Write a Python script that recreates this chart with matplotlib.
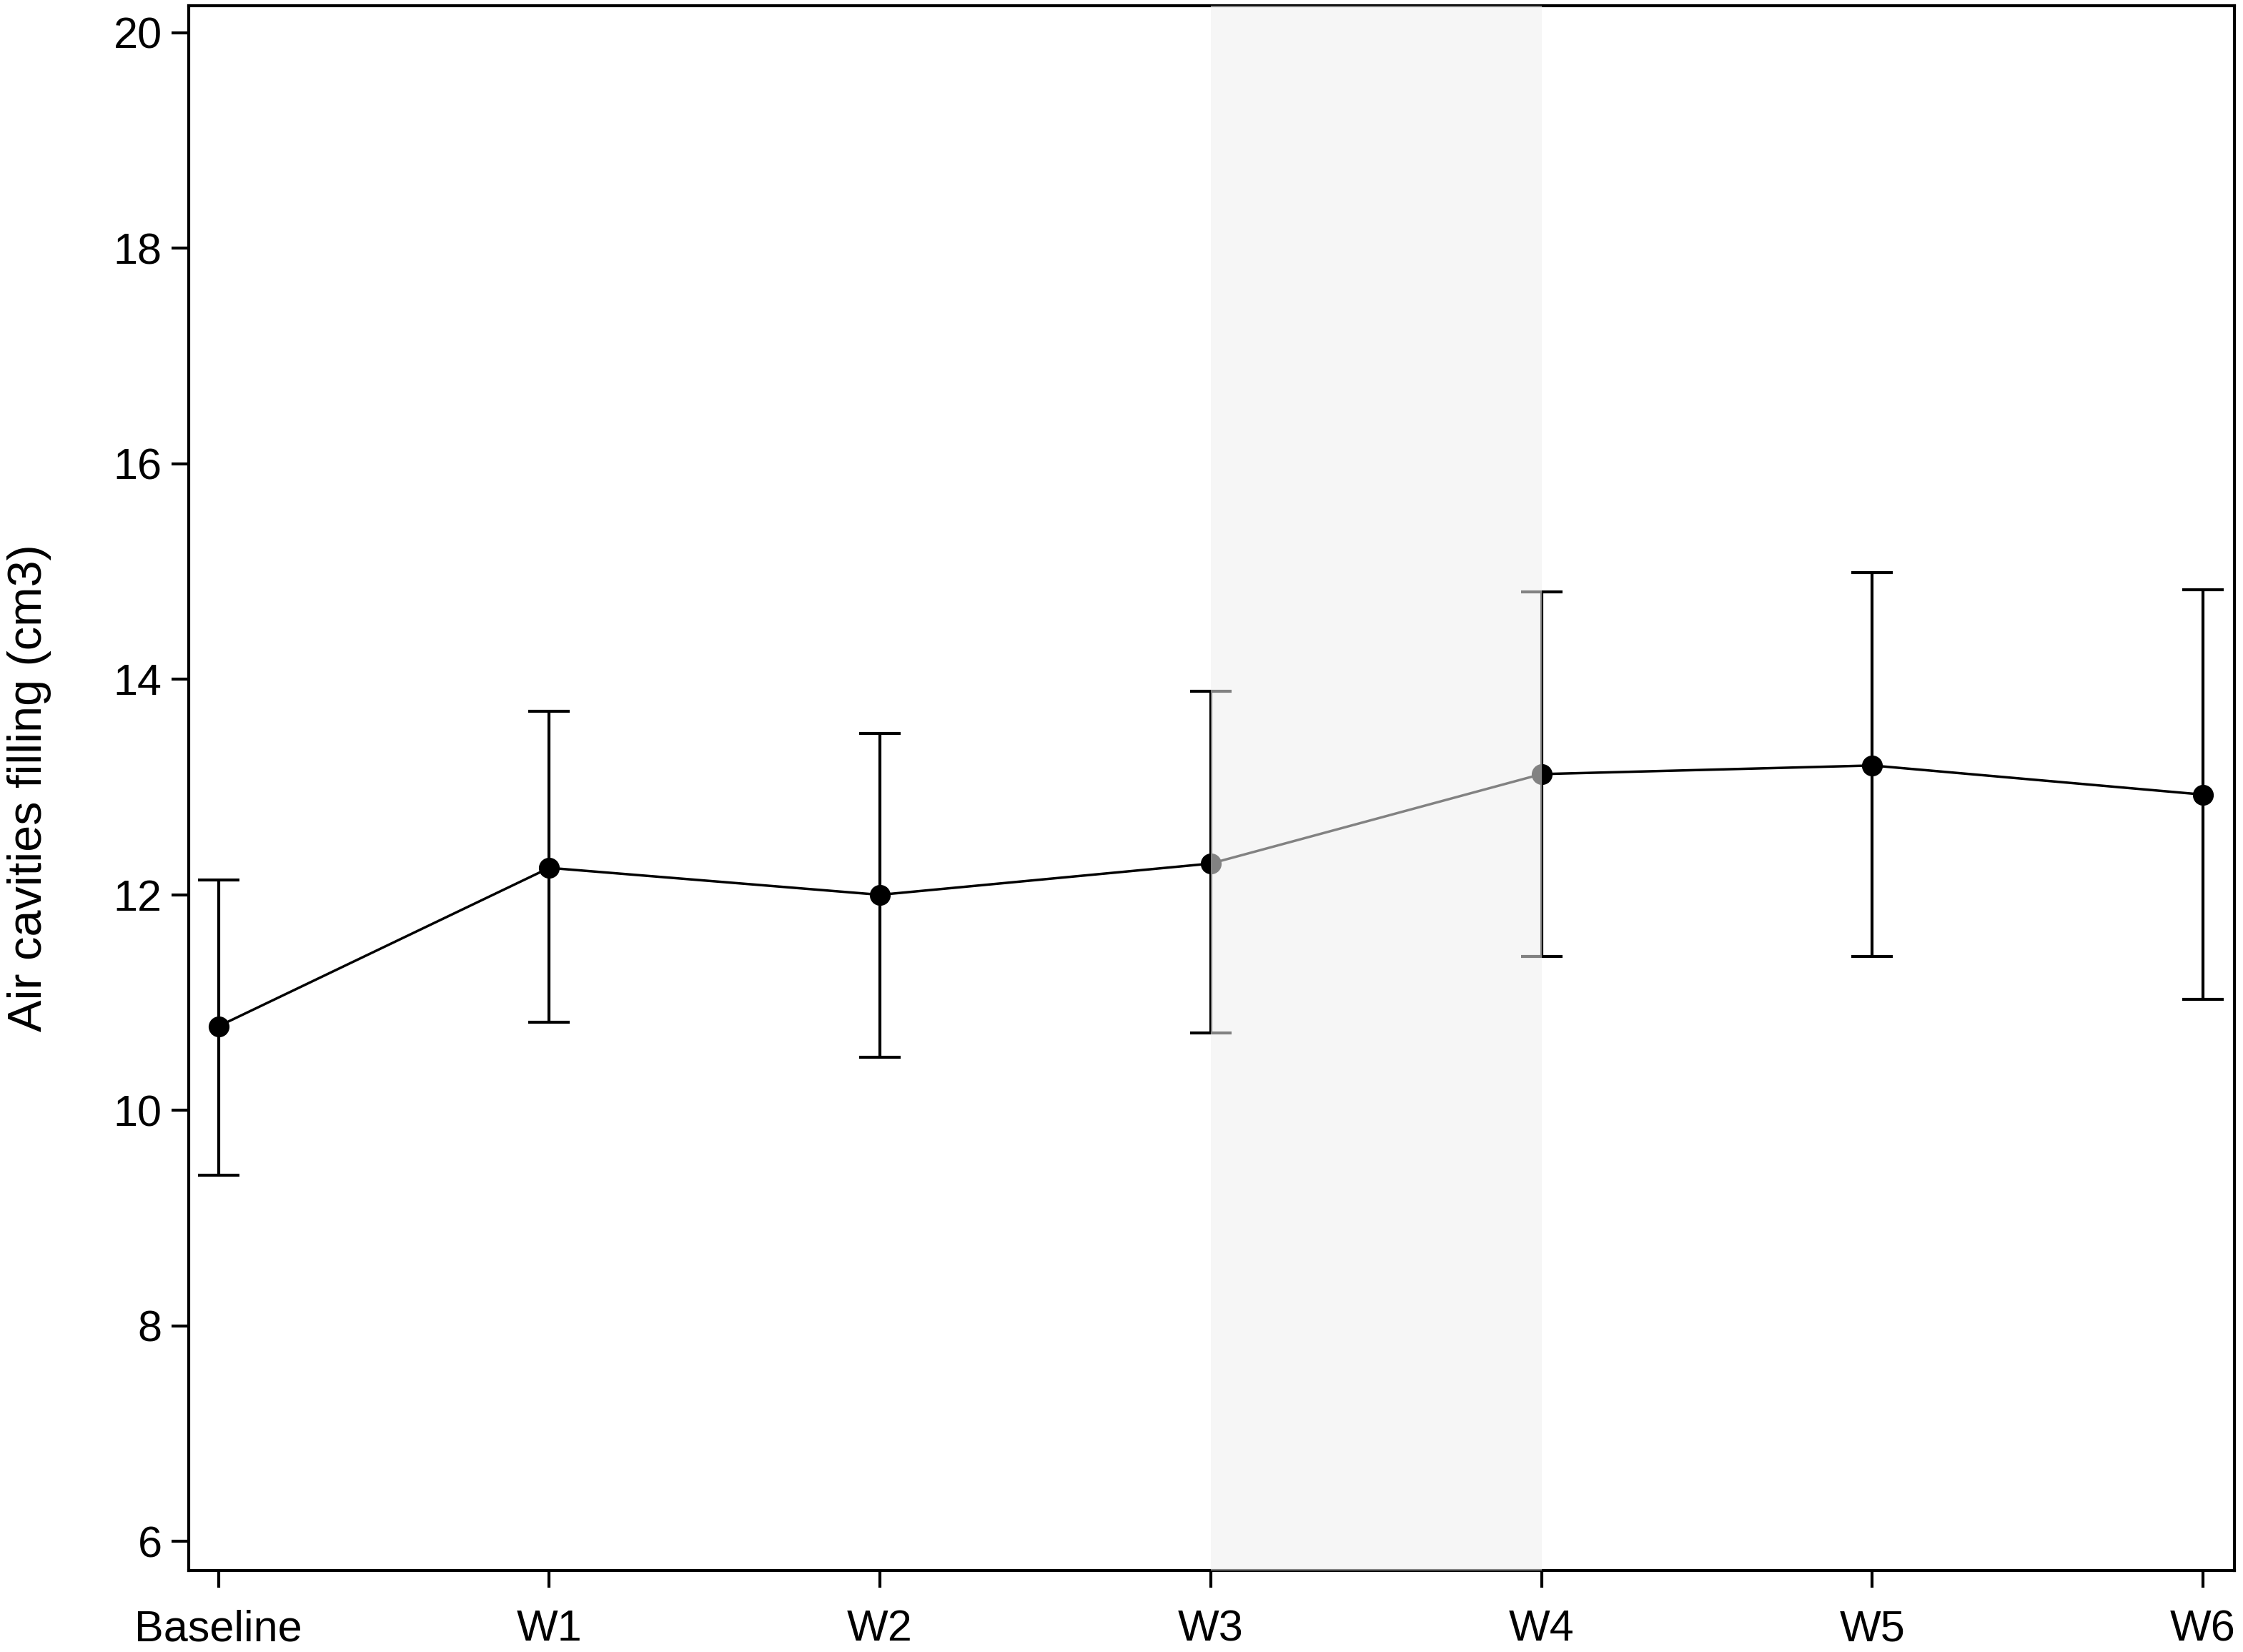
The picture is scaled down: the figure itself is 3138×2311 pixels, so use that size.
import matplotlib
matplotlib.use("Agg")
import matplotlib.pyplot as plt

categories = ["Baseline", "W1", "W2", "W3", "W4", "W5", "W6"]
means = [10.78, 12.25, 12.00, 12.29, 13.12, 13.20, 12.93]
upper = [12.14, 13.70, 13.50, 13.89, 14.81, 14.99, 14.83]
lower = [9.40, 10.82, 10.49, 10.72, 11.43, 11.43, 11.03]
yticks = [6, 8, 10, 12, 14, 16, 18, 20]
shade_from, shade_to = 3, 4

plt.rcParams['font.family'] = ['Liberation Sans', 'DejaVu Sans']

W, H = 3138, 2311
dpi = 100
fig = plt.figure(figsize=(W / dpi, H / dpi), dpi=dpi)
left, right, top, bottom = 264, 3126, 8, 2197
ax = fig.add_axes([left / W, 1 - bottom / H, (right - left) / W, (bottom - top) / H])

x = list(range(len(categories)))
yerr = [[m - l for m, l in zip(means, lower)], [u - m for u, m in zip(upper, means)]]
ax.errorbar(x, means, yerr=yerr, color='black', lw=2.5, elinewidth=3,
            capsize=21, capthick=3, marker='o', markersize=20, zorder=3)

ax.axvspan(shade_from, shade_to, color='#efefef', alpha=0.55, lw=0, zorder=4)

ax.set_xlim(-0.09, 6.095)
ax.set_ylim(5.73, 20.25)
ax.set_xticks(x)
ax.set_xticklabels(categories)
ax.set_yticks(yticks)
ax.tick_params(axis='both', labelsize=44, length=17, width=3, direction='out', pad=10,
               top=False, right=False)
ax.tick_params(axis='x', pad=22)
for s in ax.spines.values():
    s.set_linewidth(3)
ax.set_ylabel("Air cavities filling (cm3)", fontsize=48, labelpad=62)

fig.savefig("out.png", dpi=dpi)
